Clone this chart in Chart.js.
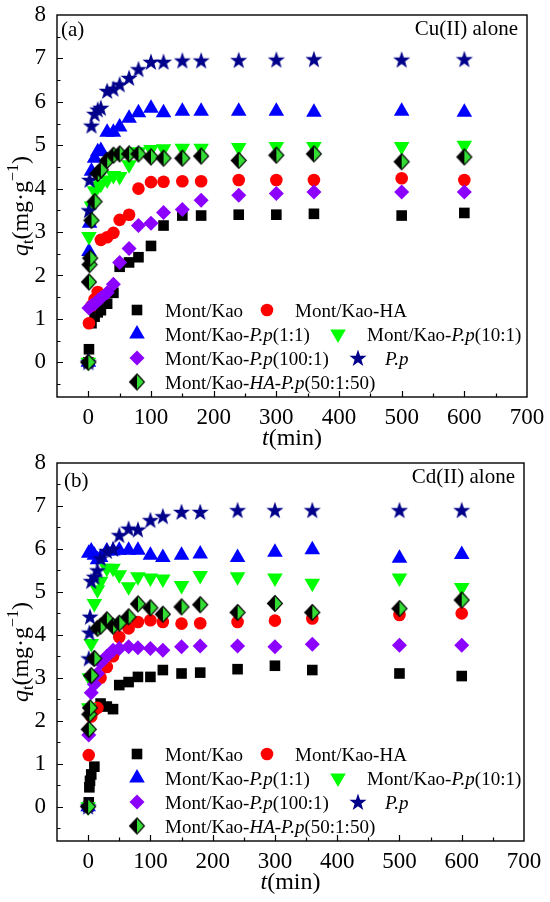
<!DOCTYPE html>
<html><head><meta charset="utf-8">
<script src="https://cdn.jsdelivr.net/npm/chart.js@4.4.1/dist/chart.umd.min.js"></script>
<style>
html,body{margin:0;padding:0;background:#fff;width:550px;height:902px;overflow:hidden}
.wrap{position:absolute;left:0;width:550px;height:451px}
canvas{display:block}
</style></head><body>
<div class="wrap" style="top:0"><canvas id="ca" width="550" height="451"></canvas></div>
<div class="wrap" style="top:451px"><canvas id="cb" width="550" height="451"></canvas></div>
<script>
// ---------- data (time in min, q_t in mg/g) ----------
const TIMES = [0, 1, 2, 3, 5, 10, 15, 20, 30, 40, 50, 65, 80, 100, 120, 150, 180, 240, 300, 360, 500, 600];

// (a) Cu(II) alone
const CU_MK     = [0, 0.3, null, null, 0.9, 1.05, 1.15, 1.2, 1.35, 1.6, 2.2, 2.3, 2.42, 2.68, 3.15, 3.38, 3.38, 3.4, 3.4, 3.42, 3.38, 3.44];
const CU_HA     = [0, 0.9, null, null, 1.3, 1.45, 1.62, 2.82, 2.88, 2.98, 3.28, 3.4, 4.0, 4.15, 4.16, 4.17, 4.17, 4.2, 4.2, 4.2, 4.24, 4.2];
const CU_PP11   = [0, 2.55, 3.2, null, 4.4, 4.7, 4.85, 4.88, 5.3, 5.3, 5.42, 5.62, 5.75, 5.85, 5.75, 5.78, 5.78, 5.78, 5.78, 5.76, 5.78, 5.76];
const CU_PP101  = [0, 2.9, null, null, 3.6, 3.95, 4.05, 4.1, 4.2, 4.3, 4.28, 4.55, 4.85, 4.9, 4.92, 4.93, 4.93, 4.95, 4.97, 4.97, 4.97, 5.0];
const CU_PP1001 = [0, 1.25, null, null, 1.3, 1.35, 1.42, 1.48, 1.6, 1.8, 2.3, 2.62, 3.15, 3.2, 3.45, 3.52, 3.73, 3.85, 3.89, 3.92, 3.92, 3.92];
const CU_PP     = [0, 3.5, 4.2, null, 5.45, 5.72, 5.82, 5.86, 6.25, 6.3, 6.4, 6.55, 6.75, 6.92, 6.92, 6.95, 6.95, 6.96, 6.97, 6.98, 6.97, 6.98];
const CU_HAPP   = [0, 1.85, 2.25, 2.4, 3.27, 3.7, 4.35, 4.43, 4.65, 4.77, 4.8, 4.8, 4.8, 4.73, 4.7, 4.7, 4.75, 4.65, 4.77, 4.8, 4.62, 4.73];

// (b) Cd(II) alone
const CD_MK     = [0, 0.1, 0.45, 0.6, 0.75, 0.93, null, 2.4, 2.33, 2.27, 2.83, 2.9, 3.02, 3.02, 3.18, 3.1, 3.12, 3.2, 3.28, 3.18, 3.1, 3.04];
const CD_HA     = [0, 1.2, null, null, 2.1, 2.25, 2.3, 3.0, 3.25, 3.5, 3.95, 4.15, 4.3, 4.34, 4.3, 4.26, 4.27, 4.3, 4.33, 4.38, 4.46, 4.5];
const CD_PP11   = [0, 5.9, null, null, 5.95, 5.85, 5.75, 5.8, 5.95, 5.95, 5.97, 5.97, 5.97, 5.85, 5.8, 5.85, 5.88, 5.8, 5.92, 5.98, 5.78, 5.87];
const CD_PP101  = [0, 2.3, 3.0, null, 3.8, 4.73, 5.05, 5.25, 5.55, 5.55, 5.4, 5.12, 5.35, 5.32, 5.3, 5.15, 5.38, 5.35, 5.32, 5.2, 5.32, 5.1];
const CD_PP1001 = [0, 1.67, null, null, 2.65, 2.85, 3.1, 3.35, 3.5, 3.64, 3.68, 3.72, 3.7, 3.68, 3.64, 3.72, 3.74, 3.74, 3.72, 3.78, 3.76, 3.76];
const CD_PP     = [0, 3.45, 4.05, 4.42, 5.25, 5.35, 5.5, 5.78, 5.95, 6.0, 6.32, 6.47, 6.45, 6.67, 6.76, 6.86, 6.86, 6.9, 6.9, 6.9, 6.9, 6.9];
const CD_HAPP   = [0, 1.8, 2.15, 2.3, 3.05, 3.45, 4.15, 4.2, 4.35, 4.2, 4.27, 4.42, 4.72, 4.63, 4.48, 4.65, 4.7, 4.52, 4.73, 4.52, 4.61, 4.81];

const X_TICKS = [0, 100, 200, 300, 400, 500, 600, 700];
const Y_TICKS = [0, 1, 2, 3, 4, 5, 6, 7, 8];
const SERIES_LABELS = [
  [['Mont/Kao', 0]],
  [['Mont/Kao-HA', 0]],
  [['Mont/Kao-', 0], ['P.p', 1], ['(1:1)', 0]],
  [['Mont/Kao-', 0], ['P.p', 1], ['(10:1)', 0]],
  [['Mont/Kao-', 0], ['P.p', 1], ['(100:1)', 0]],
  [['P.p', 1]],
  [['Mont/Kao-', 0], ['HA', 1], ['-', 0], ['P.p', 1], ['(50:1:50)', 0]]
];

// ---------- styles ----------
const SERIF = "'Liberation Serif','Times New Roman',serif";

function makeStar() {
  const c = document.createElement('canvas'); c.width = 20; c.height = 20;
  const g = c.getContext('2d');
  g.beginPath();
  for (let i = 0; i < 10; i++) {
    const r = i % 2 ? 3.6 : 9;
    const a = -Math.PI / 2 + i * Math.PI / 5;
    const px = 10 + r * Math.cos(a), py = 10.6 + r * Math.sin(a);
    i ? g.lineTo(px, py) : g.moveTo(px, py);
  }
  g.closePath(); g.fillStyle = '#00008b'; g.fill();
  return c;
}
function makeHalfDiamond() {
  const c = document.createElement('canvas'); c.width = 18; c.height = 19;
  const g = c.getContext('2d');
  const cx = 9, cy = 9.5, w = 7.5, h = 8;
  g.beginPath(); g.moveTo(cx, cy - h); g.lineTo(cx - w, cy); g.lineTo(cx, cy + h); g.closePath();
  g.fillStyle = '#000'; g.fill();
  g.beginPath(); g.moveTo(cx, cy - h); g.lineTo(cx + w, cy); g.lineTo(cx, cy + h); g.closePath();
  g.fillStyle = '#33dd33'; g.fill();
  g.beginPath(); g.moveTo(cx, cy - h); g.lineTo(cx + w, cy); g.lineTo(cx, cy + h); g.lineTo(cx - w, cy); g.closePath();
  g.lineWidth = 1.1; g.strokeStyle = '#000'; g.stroke();
  return c;
}
const STAR = makeStar();
const HALFD = makeHalfDiamond();

const STYLES = [
  { pointStyle: 'rect', radius: 7.5, rotation: 0, color: '#000000' },
  { pointStyle: 'circle', radius: 6.3, rotation: 0, color: '#ff0000' },
  { pointStyle: 'triangle', radius: 9, rotation: 0, color: '#0000ff' },
  { pointStyle: 'triangle', radius: 9, rotation: 180, color: '#00ff00' },
  { pointStyle: 'rectRot', radius: 7.5, rotation: 0, color: '#8b00ff' },
  { pointStyle: STAR, radius: 9, rotation: 0, color: '#00008b' },
  { pointStyle: HALFD, radius: 8, rotation: 0, color: '#000000' }
];

function toPoints(arr) {
  const out = [];
  TIMES.forEach((t, i) => { if (arr[i] !== null) out.push({ x: t, y: arr[i] }); });
  return out;
}
function buildDatasets(seriesArrays) {
  return seriesArrays.map((arr, i) => ({
    label: SERIES_LABELS[i].map(p => p[0]).join(''),
    data: toPoints(arr),
    pointStyle: STYLES[i].pointStyle,
    pointRadius: STYLES[i].radius,
    pointRotation: STYLES[i].rotation,
    pointBackgroundColor: STYLES[i].color,
    pointBorderColor: STYLES[i].color,
    pointBorderWidth: 0,
    order: 10 - i
  }));
}

function drawRich(ctx, parts, x, y, size) {
  let cx = x;
  for (const [t, it] of parts) {
    ctx.font = (it ? 'italic ' : '') + size + 'px ' + SERIF;
    ctx.fillText(t, cx, y);
    cx += ctx.measureText(t).width;
  }
  return cx;
}
function richWidth(ctx, parts, size) {
  let w = 0;
  for (const [t, it] of parts) { ctx.font = (it ? 'italic ' : '') + size + 'px ' + SERIF; w += ctx.measureText(t).width; }
  return w;
}

// legend layout: [series index, marker x, text x, row]
const LEGEND_LAYOUT = [
  [0, 137, 165, 0], [1, 267, 295, 0],
  [2, 137, 165, 1], [3, 338, 367, 1],
  [4, 137, 165, 2], [5, 358, 385, 2],
  [6, 137, 165, 3]
];
const LEGEND_ROWS = [-87, -63, -39, -15];

const decor = {
  id: 'decor',
  afterDraw(chart, args, opts) {
    const ctx = chart.ctx, a = chart.chartArea;
    const xs = chart.scales.x, ys = chart.scales.y;
    ctx.save();
    // frame
    ctx.strokeStyle = '#000'; ctx.lineWidth = 1.4;
    ctx.strokeRect(a.left, a.top, a.right - a.left, a.bottom - a.top);
    // ticks (inward)
    ctx.lineWidth = 1.2;
    ctx.beginPath();
    for (let v = -0.5; v < 8; v += 0.5) {
      const y = Math.round(ys.getPixelForValue(v)) + 0.5;
      const len = Number.isInteger(v) ? 6 : 3.5;
      ctx.moveTo(a.left, y); ctx.lineTo(a.left + len, y);
    }
    for (let v = 0; v < 700; v += 50) {
      const x = Math.round(xs.getPixelForValue(v)) + 0.5;
      const len = v % 100 === 0 ? 6 : 3.5;
      ctx.moveTo(x, a.bottom); ctx.lineTo(x, a.bottom - len);
    }
    ctx.stroke();
    ctx.fillStyle = '#000';
    ctx.textBaseline = 'alphabetic';
    // panel label and metal label
    ctx.textAlign = 'left';
    ctx.font = '21px ' + SERIF;
    ctx.fillText(opts.tag, opts.tagX, a.top + opts.tagDy);
    ctx.textAlign = 'right';
    ctx.fillText(opts.metal, a.right - 9, a.top + 20);
    ctx.textAlign = 'left';
    // x title
    const xt = [['t', 1], ['(min)', 0]];
    const xw = richWidth(ctx, xt, 24);
    drawRich(ctx, xt, (a.left + a.right) / 2 - xw / 2, a.bottom + 48, 24);
    // y title (rotated)
    ctx.save();
    const cy = (a.top + a.bottom) / 2;
    ctx.translate(28, cy);
    ctx.rotate(-Math.PI / 2);
    const big = 24, small = 16;
    const segs = [['q', 1, big, 0], ['t', 0, small, 5], ['(mg·g', 0, big, 0], ['−1', 0, small, -10], [')', 0, big, 0]];
    let tw = 0;
    for (const s of segs) { ctx.font = (s[1] ? 'italic ' : '') + s[2] + 'px ' + SERIF; tw += ctx.measureText(s[0]).width; }
    let px = -tw / 2;
    for (const s of segs) {
      ctx.font = (s[1] ? 'italic ' : '') + s[2] + 'px ' + SERIF;
      ctx.fillText(s[0], px, s[3]);
      px += ctx.measureText(s[0]).width;
    }
    ctx.restore();
    // legend
    for (const [si, mx, tx, row] of LEGEND_LAYOUT) {
      const y = a.bottom + LEGEND_ROWS[row];
      const st = STYLES[si];
      ctx.save();
      ctx.fillStyle = st.color; ctx.strokeStyle = st.color;
      Chart.helpers.drawPoint(ctx, { pointStyle: st.pointStyle, radius: st.radius, rotation: st.rotation, borderWidth: 0 }, mx, y);
      ctx.restore();
      ctx.fillStyle = '#000';
      drawRich(ctx, SERIES_LABELS[si], tx, y + 6.5, 19);
    }
    ctx.restore();
  }
};

function makeChart(id, series, cfg) {
  return new Chart(document.getElementById(id), {
    type: 'scatter',
    data: { datasets: buildDatasets(series) },
    options: {
      responsive: false, animation: false,
      layout: { padding: { top: cfg.top, right: cfg.right, left: 0, bottom: 0 } },
      plugins: { legend: { display: false }, tooltip: { enabled: false }, decor: cfg },
      scales: {
        x: {
          type: 'linear', min: -50, max: 700,
          grid: { display: false, drawTicks: false }, border: { display: false },
          ticks: { color: '#000', font: { family: SERIF, size: 23 }, padding: 7, maxRotation: 0 },
          afterBuildTicks: s => { s.ticks = X_TICKS.map(v => ({ value: v })); },
          afterFit: s => { s.height = cfg.xh; s.paddingLeft = 0; s.paddingRight = 0; }
        },
        y: {
          type: 'linear', min: -0.8, max: 8,
          grid: { display: false, drawTicks: false }, border: { display: false },
          ticks: { color: '#000', font: { family: SERIF, size: 23 }, padding: 11 },
          afterBuildTicks: s => { s.ticks = Y_TICKS.map(v => ({ value: v })); },
          afterFit: s => { s.width = 57; s.paddingTop = 0; s.paddingBottom = 0; }
        }
      }
    },
    plugins: [decor]
  });
}

makeChart('ca', [CU_MK, CU_HA, CU_PP11, CU_PP101, CU_PP1001, CU_PP, CU_HAPP],
  { top: 15, right: 23, xh: 54, tag: '(a)', tagX: 61, tagDy: 21, metal: 'Cu(II) alone' });
makeChart('cb', [CD_MK, CD_HA, CD_PP11, CD_PP101, CD_PP1001, CD_PP, CD_HAPP],
  { top: 12, right: 26, xh: 61, tag: '(b)', tagX: 64, tagDy: 24, metal: 'Cd(II) alone' });
</script>
</body></html>
